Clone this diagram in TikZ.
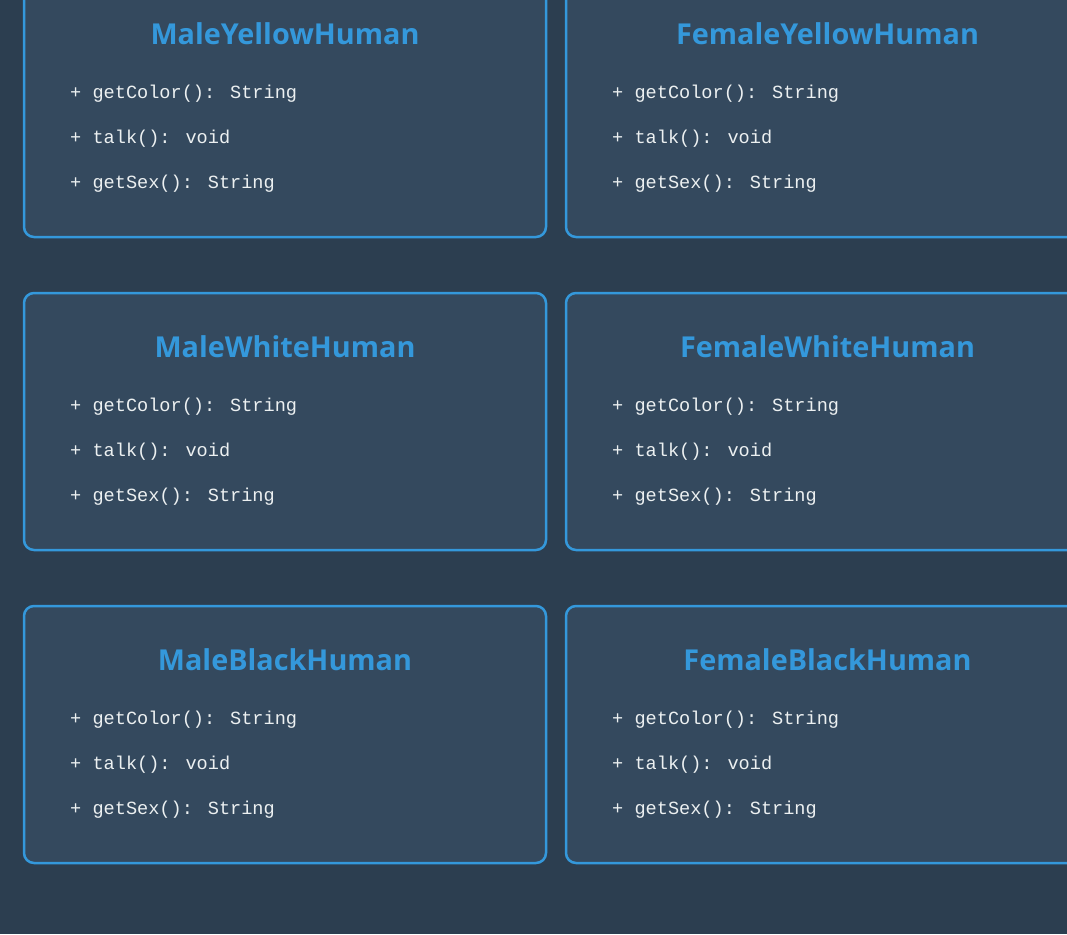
\documentclass[tikz,border=0pt]{standalone}
\usepackage{fontspec}
\setmainfont{Open Sans}
\newfontfamily\methfont{Liberation Mono}
\definecolor{bgc}{HTML}{2C3E50}
\definecolor{boxc}{HTML}{34495E}
\definecolor{linec}{HTML}{3498DB}
\definecolor{txtc}{HTML}{ECF0F1}
\tikzset{
  classbox/.style={draw=linec, fill=boxc, line width=2.5pt, rounded corners=10pt},
  classtitle/.style={text=linec, font=\bfseries\fontsize{28.8}{34}\selectfont, anchor=center, inner sep=0pt},
  method/.style={text=txtc, font=\methfont\fontsize{18.6}{22}\selectfont, anchor=west, inner sep=0pt},
}
\begin{document}
\begin{tikzpicture}[x=1pt,y=-1pt]
\fill[bgc] (0,0) rectangle (1067,934);
\useasboundingbox (0,0) rectangle (1067,934);
\begin{scope}
\clip (0,0) rectangle (1067,934);
\foreach \r/\ty/\lm/\rm in {1/-20/MaleYellowHuman/FemaleYellowHuman, 2/293/MaleWhiteHuman/FemaleWhiteHuman, 3/606/MaleBlackHuman/FemaleBlackHuman}{
  \draw[classbox] (24,\ty) rectangle (546,\ty+257);
  \node[classtitle] (lt\r) at (285,\ty+54) {\lm};
  \node[method] (la\r) at (70,\ty+114) {+ getColor(): String};
  \node[method] (lb\r) at (70,\ty+159) {+ talk(): void};
  \node[method] (lc\r) at (70,\ty+204) {+ getSex(): String};
  \draw[classbox] (566,\ty) rectangle (1089,\ty+257);
  \node[classtitle] (rt\r) at (827.5,\ty+54) {\rm};
  \node[method] (ra\r) at (612,\ty+114) {+ getColor(): String};
  \node[method] (rb\r) at (612,\ty+159) {+ talk(): void};
  \node[method] (rc\r) at (612,\ty+204) {+ getSex(): String};
}
\end{scope}
\end{tikzpicture}
\end{document}
